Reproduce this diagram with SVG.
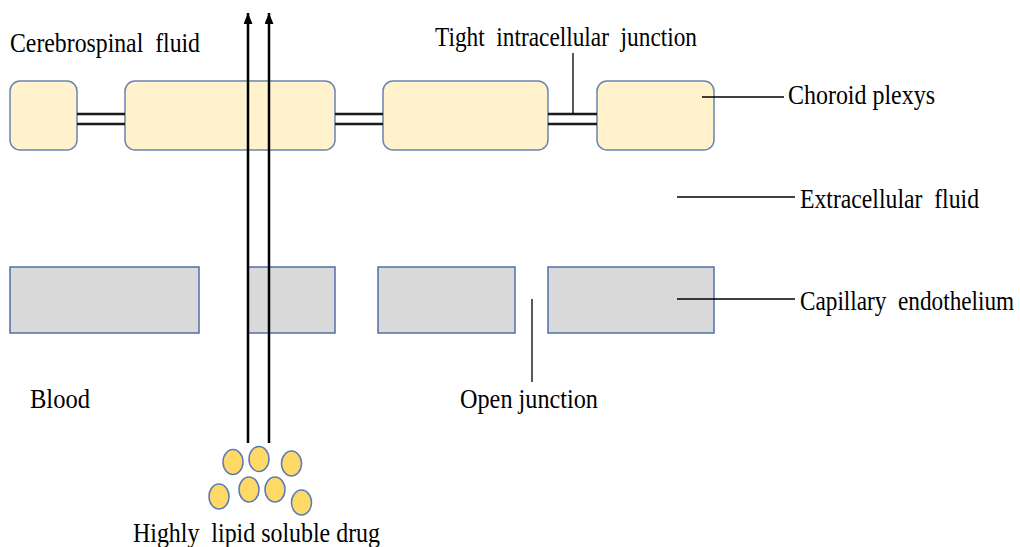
<svg xmlns="http://www.w3.org/2000/svg" width="1020" height="547" viewBox="0 0 1020 547">
<style>
.t{font-family:"Liberation Serif","Times New Roman",serif;font-size:28px;fill:#000}
.cp{fill:#fff2cc;stroke:#6b84b0;stroke-width:1.5}
.ce{fill:#d9d9d9;stroke:#4f6fa8;stroke-width:1.5}
.drug{fill:#ffd966;stroke:#5b7bb5;stroke-width:1.5}
.tj{stroke:#1a1a1a;stroke-width:2.5}
.ld{stroke:#000;stroke-width:1.3;fill:none}
.ar{stroke:#000;stroke-width:2.5;fill:none}
</style>
<defs>
<marker id="ah" markerWidth="11" markerHeight="9" refX="11" refY="4.5" orient="auto" markerUnits="userSpaceOnUse" viewBox="0 0 11 9">
<path d="M0,0 L11,4.5 L0,9 Z" fill="#000"/>
</marker>
</defs>
<rect width="1020" height="547" fill="#fff"/>

<g id="choroid-cells">
<rect id="cp1" class="cp" x="10" y="81" width="67" height="69" rx="10"/>
<rect id="cp2" class="cp" x="125" y="81" width="210" height="69" rx="10"/>
<rect id="cp3" class="cp" x="383" y="81" width="165" height="69" rx="10"/>
<rect id="cp4" class="cp" x="597" y="81" width="117" height="69" rx="10"/>
</g>

<g id="tight-junctions">
<line class="tj" x1="77" y1="114" x2="125" y2="114"/>
<line class="tj" x1="77" y1="124" x2="125" y2="124"/>
<line class="tj" x1="335" y1="114" x2="383" y2="114"/>
<line class="tj" x1="335" y1="124" x2="383" y2="124"/>
<line class="tj" x1="548" y1="114" x2="597" y2="114"/>
<line class="tj" x1="548" y1="124" x2="597" y2="124"/>
</g>

<g id="endothelium">
<rect id="ce1" class="ce" x="10" y="267" width="189" height="66"/>
<rect id="ce2" class="ce" x="248" y="267" width="87" height="66"/>
<rect id="ce3" class="ce" x="378" y="267" width="137" height="66"/>
<rect id="ce4" class="ce" x="548" y="267" width="166" height="66"/>
</g>

<g id="drug">
<ellipse class="drug" cx="233" cy="462" rx="10" ry="12.5"/>
<ellipse class="drug" cx="259" cy="459" rx="10" ry="12.5"/>
<ellipse class="drug" cx="291.5" cy="463.5" rx="10" ry="12.5"/>
<ellipse class="drug" cx="219" cy="496.5" rx="10" ry="12.5"/>
<ellipse class="drug" cx="249" cy="489.5" rx="10" ry="12.5"/>
<ellipse class="drug" cx="275" cy="489.5" rx="10" ry="12.5"/>
<ellipse class="drug" cx="301.5" cy="502.5" rx="10" ry="12.5"/>
</g>

<g id="connectors">
<line class="ar" x1="248" y1="443" x2="248" y2="13" marker-end="url(#ah)"/>
<line class="ar" x1="269" y1="443" x2="269" y2="13" marker-end="url(#ah)"/>
<line class="ld" x1="573" y1="53" x2="573" y2="114"/>
<line class="ld" x1="702" y1="97" x2="784" y2="97"/>
<line class="ld" x1="677" y1="197" x2="795" y2="197"/>
<line class="ld" x1="677" y1="299" x2="795" y2="299"/>
<line class="ld" x1="532" y1="299" x2="532" y2="382"/>
</g>

<g id="labels">
<text class="t" x="10" y="52" textLength="190" lengthAdjust="spacingAndGlyphs">Cerebrospinal&#160; fluid</text>
<text class="t" x="435" y="46" textLength="262" lengthAdjust="spacingAndGlyphs">Tight&#160; intracellular&#160; junction</text>
<text class="t" x="788" y="104" textLength="147" lengthAdjust="spacingAndGlyphs">Choroid plexys</text>
<text class="t" x="800" y="208" textLength="179" lengthAdjust="spacingAndGlyphs">Extracellular&#160; fluid</text>
<text class="t" transform="translate(800,310) scale(0.83,1)" x="0" y="0">Capillary&#160; endothelium</text>
<text class="t" x="30" y="408" textLength="60" lengthAdjust="spacingAndGlyphs">Blood</text>
<text class="t" x="460" y="408" textLength="138" lengthAdjust="spacingAndGlyphs">Open junction</text>
<text class="t" x="133" y="542" textLength="247" lengthAdjust="spacingAndGlyphs">Highly&#160; lipid soluble drug</text>
</g>
</svg>
